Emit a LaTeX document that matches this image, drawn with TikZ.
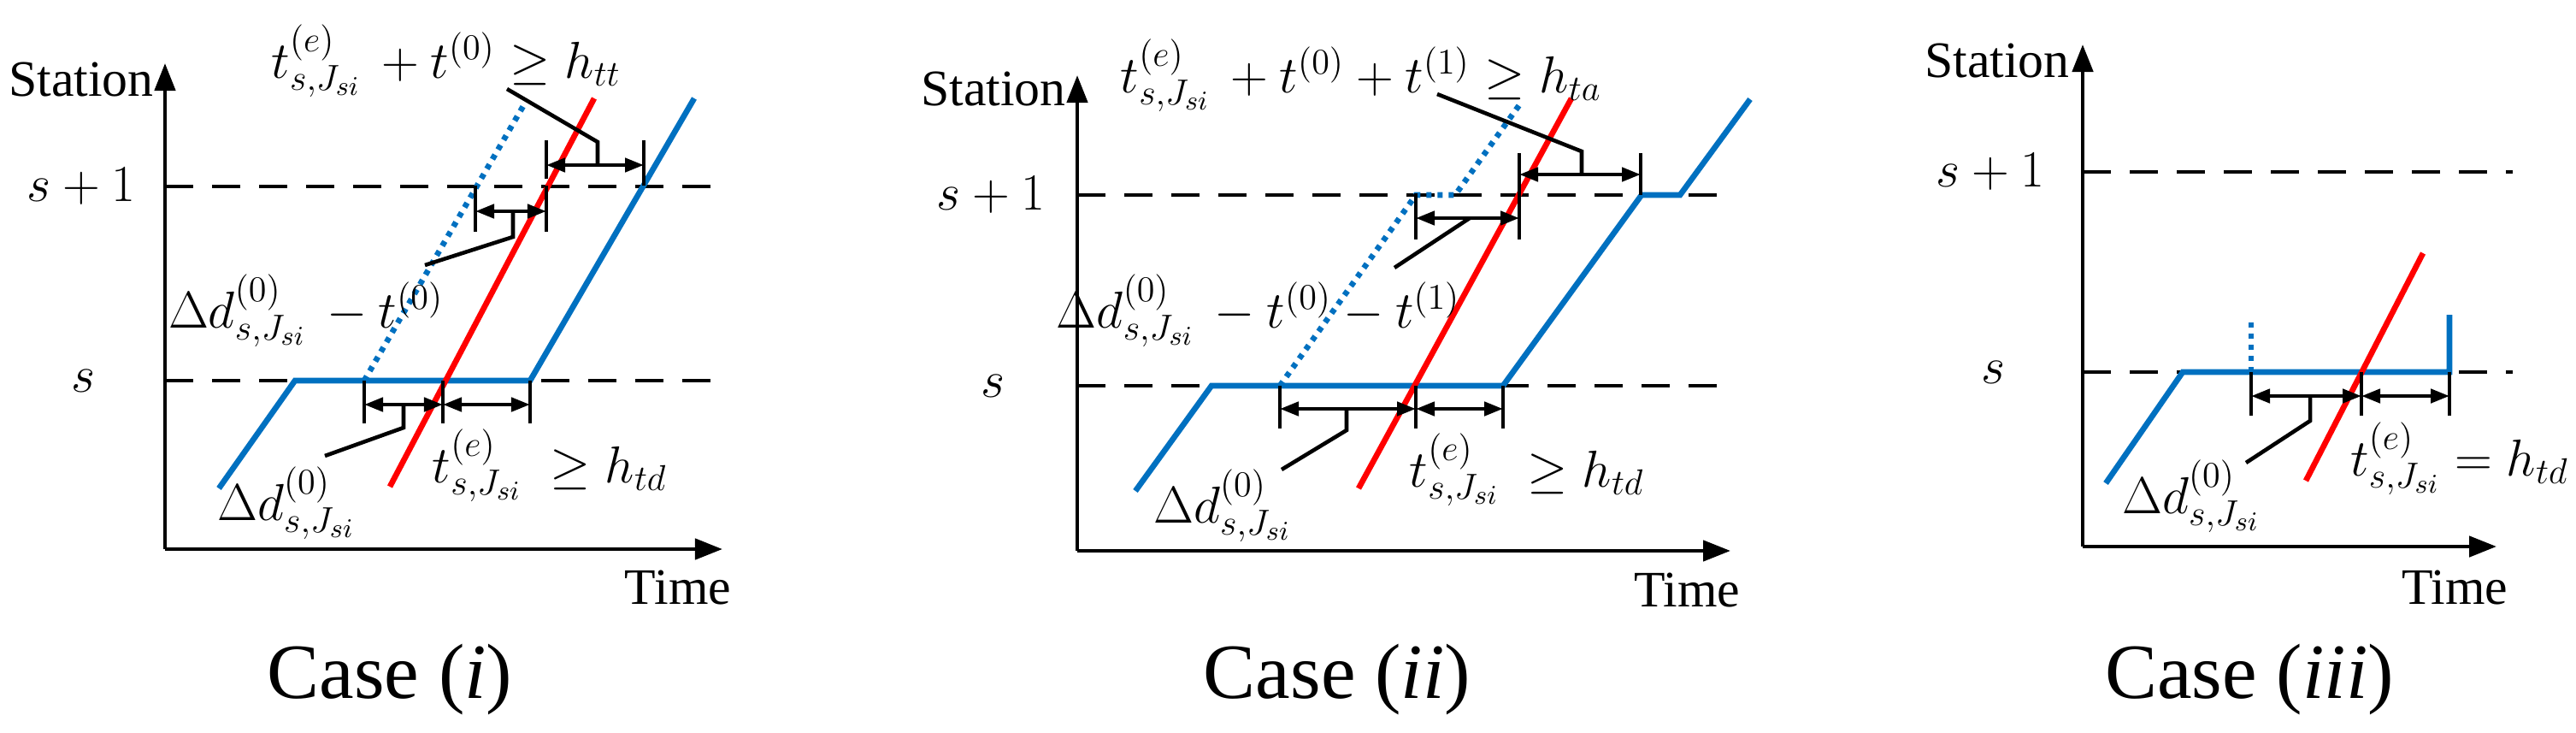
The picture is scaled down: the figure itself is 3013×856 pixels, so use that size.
\documentclass[tikz,border=0pt]{standalone}
\usepackage{fontspec}
\setmainfont{Liberation Serif}
\usetikzlibrary{arrows.meta}
\definecolor{tblue}{RGB}{0,112,192}
\tikzset{
  ax/.style={line width=1.3pt,-{Triangle[length=0.32cm,width=0.24cm]}},
  dsh/.style={line width=1.2pt,dash pattern=on 0.33cm off 0.22cm},
  bl/.style={tblue,line width=1.9pt},
  bld/.style={tblue,line width=1.9pt,dash pattern=on 0.06cm off 0.07cm},
  rd/.style={red,line width=1.9pt},
  tk/.style={line width=1.3pt},
  dim/.style={line width=1.3pt,{Triangle[length=0.22cm,width=0.16cm]}-{Triangle[length=0.22cm,width=0.16cm]}},
  lead/.style={line width=1.3pt},
  lbl/.style={font=\fontsize{17}{19}\selectfont,inner sep=0pt},
  mth/.style={font=\fontsize{18}{21}\selectfont,inner sep=0pt},
  casefont/.style={font=\fontsize{26}{30}\selectfont,inner sep=0pt}
}
\begin{document}
\begin{tikzpicture}[x=0.01cm,y=0.01cm]
\useasboundingbox (0,0) rectangle (3013,856);
% ---------- Panel 1 ----------
\coordinate (o1) at (193,214);
\coordinate (yt1) at (193,782);
\coordinate (xt1) at (845,214);
\draw[ax] (o1) -- (yt1);
\draw[ax] (o1) -- (xt1);
\coordinate (d1a) at (193,638); \coordinate (d1b) at (848,638);
\coordinate (d1c) at (193,411); \coordinate (d1d) at (848,411);
\draw[dsh] (d1a) -- (d1b);
\draw[dsh] (d1c) -- (d1d);
\draw[bld] (426,411) -- (612,732);
\draw[bl] (256,285) -- (345,411) -- (620,411) -- (812,741);
\draw[rd] (456,287) -- (695,741);
\draw[tk] (426,411) -- (426,361) (518,411) -- (518,361) (620,411) -- (620,361);
\coordinate (p1a) at (426,383); \coordinate (p1b) at (518,383); \coordinate (p1c) at (620,383);
\draw[dim] (p1a) -- (p1b);
\draw[dim] (p1b) -- (p1c);
\draw[lead] (472,383) -- (472,356) -- (380,323);
\draw[tk] (556,639) -- (556,585) (639,639) -- (639,585);
\coordinate (q1a) at (556,609); \coordinate (q1b) at (639,609);
\draw[dim] (q1a) -- (q1b);
\draw[lead] (600,609) -- (600,579) -- (497,546);
\draw[tk] (639,692) -- (639,647) (753,692) -- (753,639);
\coordinate (r1a) at (639,663); \coordinate (r1b) at (753,663);
\draw[dim] (r1a) -- (r1b);
\draw[lead] (699,663) -- (699,690) -- (593,752);
\node[lbl] (st1) at (95,763) {Station};
\node[mth] (sp1) at (95,638) {$s+1$};
\node[mth] (s1) at (98,411) {$s$};
\node[lbl] (tm1) at (793,169) {Time};
\node[casefont] (c1) at (456,62) {Case (\textit{i})};
\node[mth] (l1a) at (335,268) {$\Delta d^{(0)}_{s,J_{si}}$};
\node[mth] (l1b) at (643,312) {$t^{(e)}_{s,J_{si}}\ \ge h_{td}$};
\node[mth] (l1c) at (358,493) {$\Delta d^{(0)}_{s,J_{si}}\,-t^{(0)}$};
\node[mth] (l1d) at (522,785) {$t^{(e)}_{s,J_{si}}\,+t^{(0)}\ge h_{tt}$};
% ---------- Panel 2 ----------
\coordinate (o2) at (1260,212);
\coordinate (yt2) at (1260,768);
\coordinate (xt2) at (2024,212);
\draw[ax] (o2) -- (yt2);
\draw[ax] (o2) -- (xt2);
\coordinate (d2a) at (1260,628); \coordinate (d2b) at (2028,628);
\coordinate (d2c) at (1260,405); \coordinate (d2d) at (2028,405);
\draw[dsh] (d2a) -- (d2b);
\draw[dsh] (d2c) -- (d2d);
\draw[bld] (1497,405) -- (1656,628) -- (1702,628) -- (1779,736);
\draw[bl] (1328,282) -- (1417,405) -- (1758,405) -- (1920,628) -- (1965,628) -- (2047,740);
\draw[rd] (1589,285) -- (1838,741);
\draw[tk] (1497,405) -- (1497,355) (1656,405) -- (1656,355) (1758,405) -- (1758,355);
\coordinate (p2a) at (1497,378); \coordinate (p2b) at (1656,378); \coordinate (p2c) at (1758,378);
\draw[dim] (p2a) -- (p2b);
\draw[dim] (p2b) -- (p2c);
\draw[lead] (1575,378) -- (1575,353) -- (1499,307);
\draw[tk] (1656,630) -- (1656,576) (1777,630) -- (1777,576);
\coordinate (q2a) at (1656,601); \coordinate (q2b) at (1777,601);
\draw[dim] (q2a) -- (q2b);
\draw[lead] (1719,601) -- (1631,543);
\draw[tk] (1777,677) -- (1777,600) (1919,677) -- (1919,628);
\coordinate (r2a) at (1777,652); \coordinate (r2b) at (1919,652);
\draw[dim] (r2a) -- (r2b);
\draw[lead] (1850,652) -- (1850,679) -- (1681,746);
\node[lbl] (st2) at (1162,752) {Station};
\node[mth] (sp2) at (1159,628) {$s+1$};
\node[mth] (s2) at (1161,405) {$s$};
\node[lbl] (tm2) at (1973,166) {Time};
\node[casefont] (c2) at (1564,62) {Case (\textit{ii})};
\node[mth] (l2a) at (1430,265) {$\Delta d^{(0)}_{s,J_{si}}$};
\node[mth] (l2b) at (1786,307) {$t^{(e)}_{s,J_{si}}\ \ge h_{td}$};
\node[mth] (l2c) at (1472,493) {$\Delta d^{(0)}_{s,J_{si}}\,-t^{(0)}-t^{(1)}$};
\node[mth] (l2d) at (1592,768) {$t^{(e)}_{s,J_{si}}\,+t^{(0)}+t^{(1)}\ge h_{ta}$};
% ---------- Panel 3 ----------
\coordinate (o3) at (2436,217);
\coordinate (yt3) at (2436,804);
\coordinate (xt3) at (2920,217);
\draw[ax] (o3) -- (yt3);
\draw[ax] (o3) -- (xt3);
\coordinate (d3a) at (2436,655); \coordinate (d3b) at (2939,655);
\coordinate (d3c) at (2436,421); \coordinate (d3d) at (2939,421);
\draw[dsh] (d3a) -- (d3b);
\draw[dsh] (d3c) -- (d3d);
\draw[bld] (2633,421) -- (2633,485);
\draw[bl] (2463,291) -- (2553,421) -- (2865,421) -- (2865,488);
\draw[rd] (2697,294) -- (2834,560);
\draw[tk] (2633,421) -- (2633,370) (2762,421) -- (2762,370) (2865,421) -- (2865,370);
\coordinate (p3a) at (2633,393); \coordinate (p3b) at (2762,393); \coordinate (p3c) at (2865,393);
\draw[dim] (p3a) -- (p3b);
\draw[dim] (p3b) -- (p3c);
\draw[lead] (2702,393) -- (2702,364) -- (2627,315);
\node[lbl] (st3) at (2336,785) {Station};
\node[mth] (sp3) at (2328,655) {$s+1$};
\node[mth] (s3) at (2331,421) {$s$};
\node[lbl] (tm3) at (2871,169) {Time};
\node[casefont] (c3) at (2631,62) {Case (\textit{iii})};
\node[mth] (l3a) at (2563,276) {$\Delta d^{(0)}_{s,J_{si}}$};
\node[mth,anchor=east] (l3b) at (3005,320) {$t^{(e)}_{s,J_{si}}= h_{td}$};
\end{tikzpicture}
\end{document}
